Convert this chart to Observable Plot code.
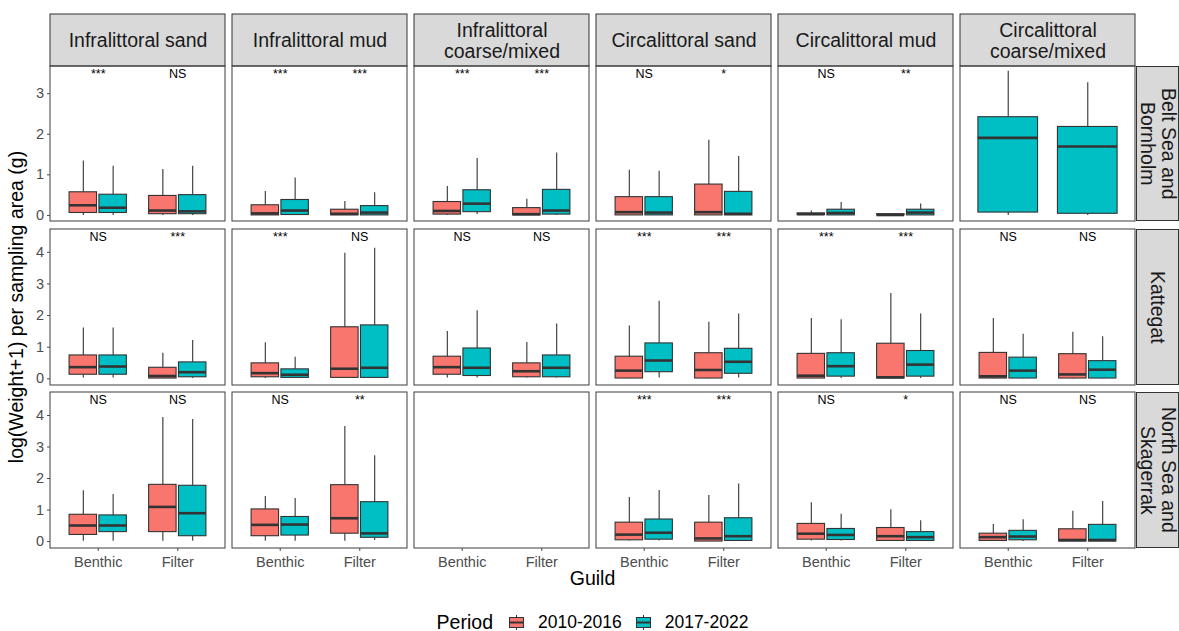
<!DOCTYPE html>
<html>
<head>
<meta charset="utf-8">
<script src="https://cdn.jsdelivr.net/npm/d3@7"></script>
<script src="https://cdn.jsdelivr.net/npm/@observablehq/plot@0.6"></script>
<style>
  body { margin: 0; background: #fff; }
  #chart { position: relative; width: 1179px; height: 631px; font-family: "Liberation Sans", Arial, sans-serif; color: #1a1a1a; background: #fff; }
  #chart > .part { position: absolute; left: 0; }
  .rstrip { position: absolute; left: 1136px; width: 43px; background: #d9d9d9; border: 1px solid #333; box-sizing: border-box;
            display: flex; align-items: center; justify-content: center; writing-mode: vertical-rl; font-size: 19.5px; line-height: 1.1; text-align: center; color: #1a1a1a; }
  .ytitle { position: absolute; left: 17px; top: 307px; transform: translate(-50%, -50%) rotate(-90deg); white-space: nowrap; font-size: 19.5px; line-height: 1.2; color: #000; }
  .xtitle { position: absolute; left: 592.5px; top: 567px; transform: translateX(-50%); font-size: 19.5px; line-height: 1.2; color: #000; white-space: nowrap; }
  .legend { position: absolute; left: 49px; width: 1087px; top: 614px; height: 17px; display: flex; justify-content: center; align-items: center; color: #000; }
  .legend .title { font-size: 19.5px; line-height: 17px; margin-right: 15px; white-space: nowrap; }
  .legend .lab { font-size: 17.5px; line-height: 17px; margin-left: 13px; margin-right: 13px; white-space: nowrap; }
  .legend .lab:last-child { margin-right: 0; }
  .legend svg { display: block; flex: none; }
</style>
</head>
<body>
<div id="chart"></div>
<script>
// ---------- data ----------
const habitats = ["Infralittoral sand", "Infralittoral mud", "Infralittoral coarse/mixed", "Circalittoral sand", "Circalittoral mud", "Circalittoral coarse/mixed"];
const habitatLabels = ["Infralittoral sand", "Infralittoral mud", "Infralittoral\ncoarse/mixed", "Circalittoral sand", "Circalittoral mud", "Circalittoral\ncoarse/mixed"];
const regions = ["Belt Sea and<br>Bornholm", "Kattegat", "North Sea and<br>Skagerrak"];
const guilds = ["Benthic", "Filter"];
const periods = ["2010-2016", "2017-2022"];
const periodColors = ["#F8766D", "#00BFC4"];

// rows: [habitat index, guild index, period index, lower whisker, Q1, median, Q3, upper whisker]
const beltStats = [
  [0,0,0, 0.00,0.06,0.25,0.57,1.34], [0,0,1, 0.00,0.06,0.19,0.51,1.21],
  [0,1,0, 0.00,0.03,0.12,0.48,1.13], [0,1,1, 0.00,0.03,0.10,0.50,1.21],
  [1,0,0, 0.00,0.00,0.05,0.25,0.59], [1,0,1, 0.00,0.01,0.12,0.38,0.92],
  [1,1,0, 0.00,0.00,0.04,0.14,0.34], [1,1,1, 0.00,0.00,0.07,0.23,0.56],
  [2,0,0, 0.00,0.02,0.11,0.33,0.71], [2,0,1, 0.02,0.08,0.29,0.62,1.40],
  [2,1,0, 0.00,0.00,0.03,0.18,0.40], [2,1,1, 0.00,0.02,0.12,0.63,1.54],
  [3,0,0, 0.00,0.00,0.08,0.45,1.11], [3,0,1, 0.00,0.00,0.07,0.45,1.09],
  [3,1,0, 0.00,0.00,0.08,0.76,1.85], [3,1,1, 0.00,0.00,0.04,0.58,1.45],
  [4,0,0, 0.00,0.01,0.03,0.05,0.11], [4,0,1, 0.00,0.00,0.06,0.14,0.32],
  [4,1,0, 0.00,0.00,0.01,0.03,0.04], [4,1,1, 0.00,0.00,0.07,0.14,0.28],
  [5,0,1, 0.00,0.07,1.91,2.42,3.55],
  [5,1,1, 0.00,0.04,1.70,2.18,3.27]
];
const kattegatStats = [
  [0,0,0, 0.03,0.13,0.37,0.74,1.61], [0,0,1, 0.03,0.13,0.39,0.74,1.61],
  [0,1,0, 0.00,0.01,0.09,0.35,0.81], [0,1,1, 0.01,0.05,0.21,0.52,1.21],
  [1,0,0, 0.01,0.05,0.18,0.49,1.14], [1,0,1, 0.01,0.03,0.13,0.30,0.68],
  [1,1,0, 0.01,0.03,0.32,1.63,3.97], [1,1,1, 0.01,0.03,0.35,1.69,4.13],
  [2,0,0, 0.03,0.13,0.37,0.70,1.50], [2,0,1, 0.03,0.09,0.35,0.96,2.15],
  [2,1,0, 0.03,0.05,0.24,0.49,1.15], [2,1,1, 0.03,0.05,0.35,0.74,1.73],
  [3,0,0, 0.00,0.01,0.26,0.70,1.67], [3,0,1, 0.03,0.21,0.58,1.12,2.45],
  [3,1,0, 0.00,0.01,0.28,0.81,1.79], [3,1,1, 0.03,0.16,0.54,0.95,2.05],
  [4,0,0, 0.00,0.01,0.10,0.79,1.91], [4,0,1, 0.01,0.07,0.40,0.81,1.87],
  [4,1,0, 0.00,0.01,0.05,1.11,2.70], [4,1,1, 0.01,0.07,0.45,0.88,2.05],
  [5,0,0, 0.00,0.01,0.08,0.82,1.91], [5,0,1, 0.00,0.01,0.26,0.67,1.41],
  [5,1,0, 0.00,0.01,0.14,0.78,1.47], [5,1,1, 0.00,0.01,0.29,0.56,1.33]
];
const northStats = [
  [0,0,0, 0.01,0.21,0.51,0.85,1.61], [0,0,1, 0.01,0.30,0.51,0.83,1.49],
  [0,1,0, 0.01,0.30,1.10,1.80,3.94], [0,1,1, 0.01,0.17,0.90,1.77,3.87],
  [1,0,0, 0.01,0.17,0.53,1.02,1.43], [1,0,1, 0.01,0.19,0.54,0.78,1.37],
  [1,1,0, 0.01,0.25,0.74,1.79,3.65], [1,1,1, 0.03,0.12,0.26,1.25,2.72],
  [3,0,0, 0.02,0.04,0.22,0.60,1.40], [3,0,1, 0.02,0.06,0.28,0.70,1.62],
  [3,1,0, 0.00,0.00,0.10,0.60,1.46], [3,1,1, 0.00,0.02,0.17,0.74,1.83],
  [4,0,0, 0.02,0.06,0.25,0.56,1.23], [4,0,1, 0.02,0.05,0.21,0.40,0.87],
  [4,1,0, 0.00,0.02,0.17,0.43,1.01], [4,1,1, 0.00,0.02,0.14,0.30,0.66],
  [5,0,0, 0.00,0.02,0.14,0.25,0.54], [5,0,1, 0.00,0.04,0.16,0.34,0.69],
  [5,1,0, 0.00,0.00,0.05,0.39,0.96], [5,1,1, 0.00,0.00,0.05,0.53,1.27]
];

// significance labels per habitat: [Benthic, Filter]
const beltSig     = [["***","NS"], ["***","***"], ["***","***"], ["NS","*"], ["NS","**"], null];
const kattegatSig = [["NS","***"], ["***","NS"], ["NS","NS"], ["***","***"], ["***","***"], ["NS","NS"]];
const northSig    = [["NS","NS"], ["NS","**"], null, ["***","***"], ["NS","*"], ["NS","NS"]];

const yTicks = [[0,1,2,3], [0,1,2,3,4], [0,1,2,3,4]];
const yDomains = [[-0.15, 3.67], [-0.21, 4.72], [-0.22, 4.73]];

// ---------- layout ----------
const FONT = '"Liberation Sans", Arial, sans-serif';
const W = 1136, ML = 49;
const rowTops = [66, 229, 392];
const rowHeights = [155, 156, 156];
const fxOpts = {domain: habitats, paddingInner: 0.04, paddingOuter: 0, axis: null, label: null};

// dodge: two boxes share a guild slot of width 0.75; a lone box takes the whole slot
function toRecords(stats) {
  const counts = d3.rollup(stats, v => v.length, d => d[0], d => d[1]);
  return stats.map(([h, g, p, lo, q1, med, q3, hi]) => {
    const n = counts.get(h).get(g);
    const off = n === 1 ? 0 : (p === 0 ? -0.1875 : 0.1875);
    const hw = n === 1 ? 0.375 : 0.1725;
    const x = g + 1 + off;
    return {habitat: habitats[h], period: periods[p], x, x1: x - hw, x2: x + hw, lo, q1, med, q3, hi};
  });
}
function toSig(sig) {
  const out = [];
  sig.forEach((s, h) => { if (s) s.forEach((t, g) => out.push({habitat: habitats[h], x: g + 1, text: t})); });
  return out;
}

const chart = document.getElementById("chart");

// column strips
const strip = Plot.plot({
  width: W, height: 52, marginLeft: ML, marginRight: 0, marginTop: 0, marginBottom: 0,
  style: {fontFamily: FONT, overflow: "visible", background: "transparent"},
  fx: fxOpts,
  marks: [
    Plot.rect(habitats, {fx: d => d, fill: "#d9d9d9", stroke: "#333", strokeWidth: 1}),
    Plot.text(habitats, {fx: d => d, text: d => habitatLabels[habitats.indexOf(d)], frameAnchor: "middle",
      fontSize: 19.5, lineHeight: 1.11, fill: "#1a1a1a"})
  ]
});
strip.classList.add("part");
strip.style.top = "14px";
chart.appendChild(strip);

const allStats = [beltStats, kattegatStats, northStats];
const allSig = [beltSig, kattegatSig, northSig];

allStats.forEach((stats, r) => {
  const recs = toRecords(stats);
  const sig = toSig(allSig[r]);
  const last = r === 2;
  const p = Plot.plot({
    width: W, height: rowHeights[r] + (last ? 30 : 0),
    marginLeft: ML, marginRight: 0, marginTop: 0, marginBottom: last ? 30 : 0,
    style: {fontFamily: FONT, overflow: "visible", background: "transparent"},
    fx: fxOpts,
    x: {domain: [0.4, 2.6], axis: last ? undefined : null},
    y: {domain: yDomains[r]},
    color: {domain: periods, range: periodColors},
    marks: [
      Plot.axisY({ticks: yTicks[r], tickFormat: d3.format("d"), tickSize: 3, tickPadding: 3.5, fontSize: 14.5, color: "#4d4d4d", label: null}),
      last ? Plot.axisX({ticks: [1, 2], tickFormat: i => guilds[i - 1], tickSize: 3, tickPadding: 5, fontSize: 14.5, color: "#4d4d4d", label: null}) : null,
      Plot.ruleX(recs, {fx: "habitat", x: "x", y1: "lo", y2: "q1", stroke: "#333", strokeWidth: 1.1}),
      Plot.ruleX(recs, {fx: "habitat", x: "x", y1: "q3", y2: "hi", stroke: "#333", strokeWidth: 1.1}),
      Plot.rect(recs, {fx: "habitat", x1: "x1", x2: "x2", y1: "q1", y2: "q3", fill: "period", stroke: "#333", strokeWidth: 1.1}),
      Plot.ruleY(recs, {fx: "habitat", y: "med", x1: "x1", x2: "x2", stroke: "#333", strokeWidth: 2.6}),
      Plot.text(sig, {fx: "habitat", x: "x", text: "text", frameAnchor: "top", dy: 3, fontSize: 12.5, fill: "#000"}),
      Plot.rect(habitats, {fx: d => d, fill: "none", stroke: "#3c3c3c", strokeWidth: 1})
    ]
  });
  p.classList.add("part");
  p.style.top = rowTops[r] + "px";
  chart.appendChild(p);

  const rs = document.createElement("div");
  rs.className = "rstrip";
  rs.style.top = rowTops[r] + "px";
  rs.style.height = rowHeights[r] + "px";
  rs.innerHTML = regions[r];
  chart.appendChild(rs);
});

// axis titles
const yt = document.createElement("div");
yt.className = "ytitle";
yt.textContent = "log(Weight+1) per sampling area (g)";
chart.appendChild(yt);
const xt = document.createElement("div");
xt.className = "xtitle";
xt.textContent = "Guild";
chart.appendChild(xt);

// legend
const lg = document.createElement("div");
lg.className = "legend";
let html = '<span class="title">Period</span>';
periods.forEach((per, i) => {
  html += `<svg width="17" height="17" viewBox="0 0 17 17">
    <line x1="8.5" x2="8.5" y1="1" y2="16" stroke="#333" stroke-width="1"/>
    <rect x="1.5" y="3.5" width="14" height="10" fill="${periodColors[i]}" stroke="#333" stroke-width="1"/>
    <line x1="1.5" x2="15.5" y1="8.5" y2="8.5" stroke="#333" stroke-width="2"/>
  </svg><span class="lab">${per}</span>`;
});
lg.innerHTML = html;
chart.appendChild(lg);
</script>
</body>
</html>
